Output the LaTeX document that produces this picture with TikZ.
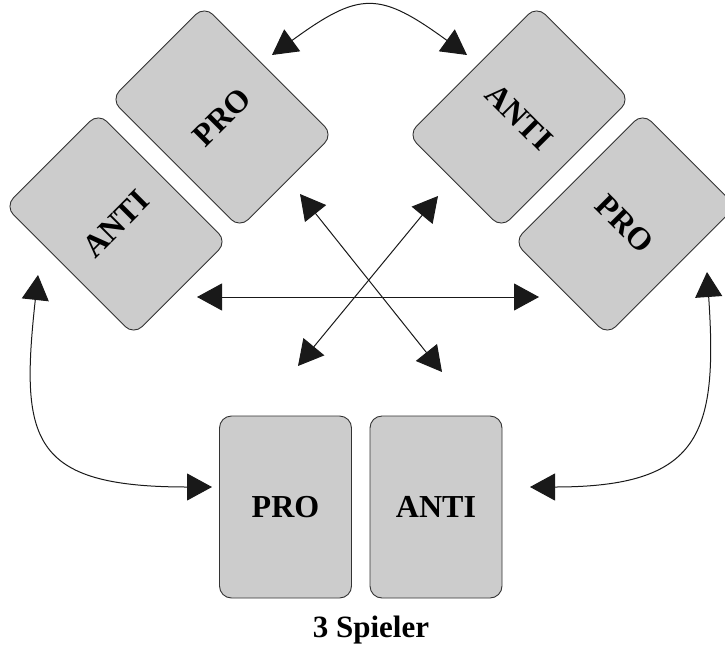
\documentclass[tikz,border=0pt]{standalone}
\usepackage{fontspec}
\setmainfont{Liberation Serif}
\usetikzlibrary{arrows.meta}
\begin{document}
\begin{tikzpicture}[x=1pt,y=-1pt,
  card/.style={draw=black!80, fill=black!20, line width=0.9pt, rounded corners=12pt,
    minimum width=132pt, minimum height=182pt, inner sep=0pt,
    font=\bfseries\fontsize{32}{32}\selectfont},
  link/.style={draw=black!90, line width=1pt,
    {Triangle[length=25pt,width=27pt]}-{Triangle[length=25pt,width=27pt]}}]
\useasboundingbox (0,0) rectangle (725,645);
% cards
\node[card, rotate=45]  (lpro)  at (222,117) {PRO};
\node[card, rotate=45]  (lanti) at (116,224) {ANTI};
\node[card, rotate=-45] (ranti) at (519,117) {ANTI};
\node[card, rotate=-45] (rpro)  at (625,224) {PRO};
\node[card] (bpro)  at (285.5,507) {PRO};
\node[card] (banti) at (436,507) {ANTI};
\node[font=\bfseries\fontsize{31}{31}\selectfont, anchor=base] (lbl) at (371,637) {3 Spieler};
% connector ends
\coordinate (a1) at (272,55);
\coordinate (a2) at (467,55);
\coordinate (h1) at (197,297);
\coordinate (h2) at (539,297);
\coordinate (d1) at (300,194);
\coordinate (d2) at (442,372);
\coordinate (e1) at (438,196);
\coordinate (e2) at (298,366);
\coordinate (l1) at (38,275);
\coordinate (l2) at (212,487);
\coordinate (r1) at (707,272);
\coordinate (r2) at (530,487);
% connectors
\draw[link] (a1) .. controls (360,-9) and (379,-9) .. (a2);
\draw[link] (h1) -- (h2);
\draw[link] (d1) -- (d2);
\draw[link] (e1) -- (e2);
\draw[link] (l1) .. controls (20,440) and (30,487) .. (l2);
\draw[link] (r1) .. controls (718,435) and (700,487) .. (r2);
\end{tikzpicture}
\end{document}
